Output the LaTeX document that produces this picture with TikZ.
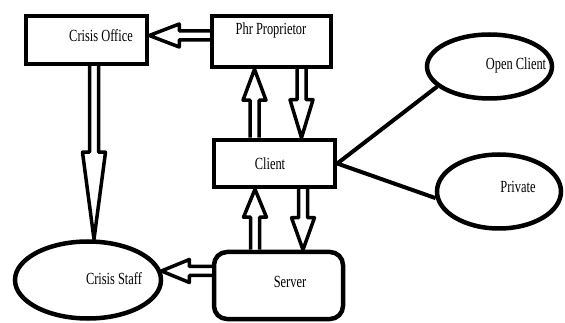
\documentclass[tikz,border=0pt]{standalone}
\usepackage{fontspec}
\setmainfont{Liberation Serif}
\usepackage{graphicx}
\usetikzlibrary{calc,shapes.geometric}

% condensed label text
\newcommand\sqz[1]{\scalebox{0.73}[1]{#1}}

% hollow block arrow from coordinate #2 to coordinate #3, head length #1
\newcommand\blockarrow[3][30pt]{%
  \coordinate (ba-p) at ($(#3)!#1!(#2)$);
  \filldraw[barrow]
    ($(#2)!4.5pt!90:(#3)$) -- ($(ba-p)!4.5pt!90:(#3)$) -- ($(ba-p)!11.5pt!90:(#3)$)
    -- (#3) -- ($(ba-p)!11.5pt!-90:(#3)$) -- ($(ba-p)!4.5pt!-90:(#3)$)
    -- ($(#2)!4.5pt!-90:(#3)$);}

\tikzset{
  box/.style={draw, line width=4.5, fill=white, inner sep=0},
  oval/.style={ellipse, draw, line width=4.5, fill=white, inner sep=0},
  lbl/.style={font=\fontsize{17}{19}\selectfont, inner sep=0},
  barrow/.style={draw=black, fill=white, line width=3.5, line join=round},
  link/.style={line width=4}
}

\begin{document}
\begin{tikzpicture}[x=1pt,y=-1pt]
\useasboundingbox (0,0) rectangle (565,323);

% boxes and ovals
\node[box, minimum width=121, minimum height=48] (co) at (86.5,40) {};
\node[box, minimum width=119, minimum height=51] (ph) at (271.5,41.5) {};
\node[box, minimum width=121, minimum height=47] (cl) at (274.5,163.5) {};
\node[box, rounded corners=13, minimum width=129, minimum height=67] (sv) at (278.5,285.5) {};
\node[oval, minimum width=125, minimum height=64] (oc) at (489.5,66.5) {};
\node[oval, minimum width=124, minimum height=74] (pv) at (499,191.5) {};
\node[oval, minimum width=146, minimum height=77] (cs) at (88,280) {};

% labels
\node[lbl] (co-t) at (101,36) {\sqz{Crisis Office}};
\node[lbl] (ph-t) at (271,30) {\sqz{Phr Proprietor}};
\node[lbl] (cl-t) at (270,164) {\sqz{Client}};
\node[lbl] (sv-t) at (290,282) {\sqz{Server}};
\node[lbl] (cs-t) at (114,279) {\sqz{Crisis Staff}};
\node[lbl] (oc-t) at (516,65) {\sqz{Open Client}};
\node[lbl] (pv-t) at (518,187) {\sqz{Private}};

% plain links from the client
\draw[link] (cl.east) -- (oc.201);
\draw[link] (cl.east) -- (pv.186);

% arrow end points
\coordinate (a1s) at (ph.west |- 0,35.5);
\coordinate (a1t) at (co.east |- 0,35.5);
\coordinate (a2s) at (co.south -| 94,0);
\coordinate (a2t) at (cs.north -| 94,0);
\coordinate (a3s) at (cl.north -| 254.5,0);
\coordinate (a3t) at (ph.south -| 254.5,0);
\coordinate (a4s) at (ph.south -| 301.5,0);
\coordinate (a4t) at (cl.north -| 301.5,0);
\coordinate (a5s) at (sv.north -| 255,0);
\coordinate (a5t) at (cl.south -| 255,0);
\coordinate (a6s) at (cl.south -| 303,0);
\coordinate (a6t) at (sv.north -| 303,0);
\coordinate (a7s) at (sv.west |- cs.7);
\coordinate (a7t) at (cs.7);

% hollow block arrows
\blockarrow{a1s}{a1t}
\blockarrow[87pt]{a2s}{a2t}
\blockarrow[31pt]{a3s}{a3t}
\blockarrow[38pt]{a4s}{a4t}
\blockarrow[28pt]{a5s}{a5t}
\blockarrow[32pt]{a6s}{a6t}
\blockarrow[28pt]{a7s}{a7t}
\end{tikzpicture}
\end{document}
